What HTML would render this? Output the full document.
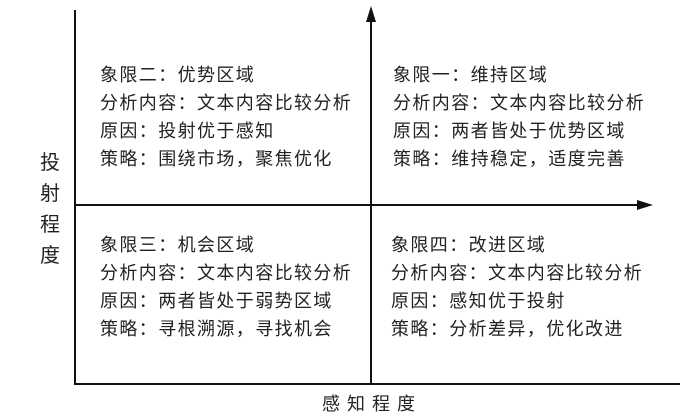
<!DOCTYPE html>
<html><head><meta charset="utf-8"><style>
body{margin:0;background:#fff;}
.c{position:relative;width:700px;height:420px;overflow:hidden;font-family:"Liberation Sans","Noto Sans CJK SC",sans-serif;color:#222;}
.t{position:absolute;font-size:18px;letter-spacing:1.4px;line-height:28px;white-space:nowrap;}
</style></head><body><div class="c">
<svg width="700" height="420" style="position:absolute;left:0;top:0">
<line x1="75" y1="10" x2="75" y2="384" stroke="#111" stroke-width="2"/>
<line x1="74" y1="384" x2="680" y2="384" stroke="#111" stroke-width="2"/>
<line x1="371" y1="384" x2="371" y2="18" stroke="#111" stroke-width="2"/>
<polygon points="371,6 366,22 376,22" fill="#111"/>
<line x1="75" y1="205" x2="640" y2="205" stroke="#111" stroke-width="2"/>
<polygon points="653,205 637,200 637,210" fill="#111"/>
</svg>
<div class="t" style="left:100px;top:61px">象限二：优势区域<br>分析内容：文本内容比较分析<br>原因：投射优于感知<br>策略：围绕市场，聚焦优化</div>
<div class="t" style="left:393px;top:61px">象限一：维持区域<br>分析内容：文本内容比较分析<br>原因：两者皆处于优势区域<br>策略：维持稳定，适度完善</div>
<div class="t" style="left:100px;top:231px">象限三：机会区域<br>分析内容：文本内容比较分析<br>原因：两者皆处于弱势区域<br>策略：寻根溯源，寻找机会</div>
<div class="t" style="left:391px;top:231px">象限四：改进区域<br>分析内容：文本内容比较分析<br>原因：感知优于投射<br>策略：分析差异，优化改进</div>
<div class="t" style="left:40px;top:148px;width:22px;font-size:20px;line-height:31px;white-space:normal;">投射程度</div>
<div class="t" style="left:322px;top:390px;font-size:18px;letter-spacing:7px;">感知程度</div>
</div></body></html>
